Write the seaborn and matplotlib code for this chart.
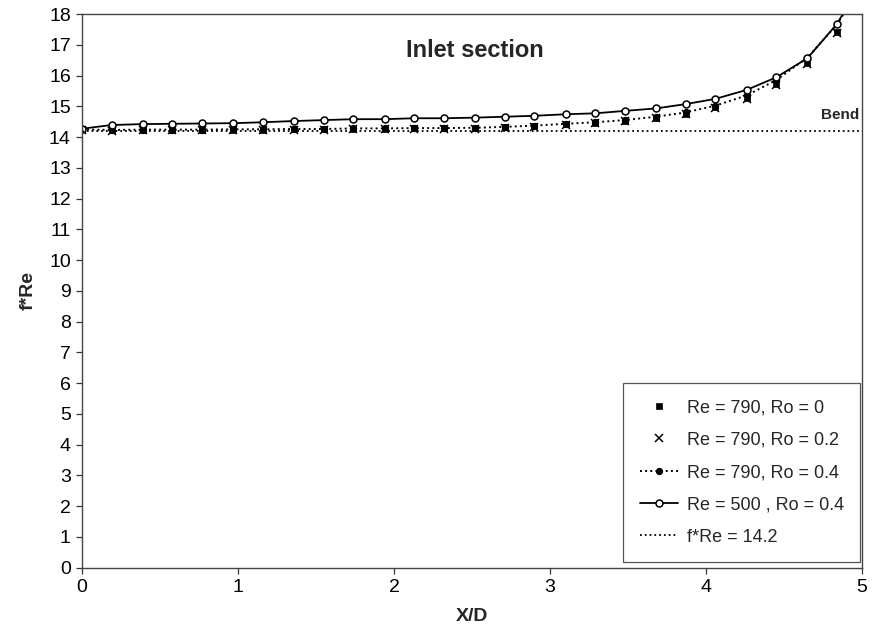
import numpy as np
import pandas as pd
import matplotlib
matplotlib.use("Agg")
import matplotlib.pyplot as plt
import seaborn as sns

# ---- data ----
xd = [0.00, 0.19, 0.39, 0.58, 0.77, 0.97, 1.16, 1.36, 1.55, 1.74, 1.94, 2.13, 2.32,
      2.52, 2.71, 2.90, 3.10, 3.29, 3.48, 3.68, 3.87, 4.06, 4.26, 4.45, 4.65, 4.84]
xd_ext = xd + [5.03]

re790_ro0 = [14.25, 14.22, 14.23, 14.23, 14.23, 14.24, 14.24, 14.25, 14.25, 14.26, 14.27, 14.28, 14.28,
             14.28, 14.31, 14.35, 14.41, 14.46, 14.52, 14.62, 14.75, 14.96, 15.27, 15.72, 16.42, 17.42]
re790_ro02 = [14.24, 14.21, 14.22, 14.22, 14.22, 14.23, 14.23, 14.24, 14.24, 14.25, 14.26, 14.27, 14.27,
              14.27, 14.30, 14.34, 14.40, 14.45, 14.51, 14.61, 14.74, 14.95, 15.25, 15.70, 16.38, 17.38]
re790_ro04 = [14.25, 14.23, 14.24, 14.24, 14.24, 14.25, 14.25, 14.26, 14.26, 14.28, 14.28, 14.29, 14.29,
              14.30, 14.33, 14.37, 14.43, 14.48, 14.55, 14.66, 14.80, 15.02, 15.35, 15.85, 16.58, 17.66, 19.20]
re500_ro04 = [14.27, 14.39, 14.42, 14.43, 14.44, 14.45, 14.48, 14.52, 14.55, 14.58, 14.58, 14.61, 14.61,
              14.63, 14.66, 14.69, 14.74, 14.77, 14.85, 14.93, 15.07, 15.24, 15.53, 15.94, 16.56, 17.68, 19.30]
ref_x = [0, 5]
ref_y = [14.2, 14.2]

labels = ["Re = 790, Ro = 0", "Re = 790, Ro = 0.2", "Re = 790, Ro = 0.4",
          "Re = 500 , Ro = 0.4", "f*Re = 14.2"]
xticks = [0, 1, 2, 3, 4, 5]
yticks = list(range(0, 19))

# ---- style ----
sns.set_style("white")
plt.rcParams["font.family"] = ["Liberation Sans", "DejaVu Sans"]

fig = plt.figure(figsize=(8.72, 6.31), dpi=100)
ax = fig.add_axes([0.094, 0.1006, 0.8945, 0.8772])

df0 = pd.DataFrame({"x": xd, "y": re790_ro0})
df1 = pd.DataFrame({"x": xd, "y": re790_ro02})
df2 = pd.DataFrame({"x": xd_ext, "y": re790_ro04})
df3 = pd.DataFrame({"x": xd_ext, "y": re500_ro04})
dfr = pd.DataFrame({"x": ref_x, "y": ref_y})

sns.lineplot(data=df0, x="x", y="y", ax=ax, color="black", linestyle="none",
             marker="s", markersize=4.5, markeredgecolor="black", markerfacecolor="black",
             markeredgewidth=0.5, label=labels[0], estimator=None, sort=False)
sns.lineplot(data=df1, x="x", y="y", ax=ax, color="black", linestyle="none",
             marker="x", markersize=6, markeredgecolor="black", markeredgewidth=1.1,
             label=labels[1], estimator=None, sort=False)
sns.lineplot(data=df2, x="x", y="y", ax=ax, color="black", linestyle=":", linewidth=1.4,
             marker="o", markersize=4.5, markerfacecolor="black", markeredgecolor="black",
             label=labels[2], estimator=None, sort=False)
sns.lineplot(data=df3, x="x", y="y", ax=ax, color="black", linestyle="-", linewidth=1.3,
             marker="o", markersize=5, markerfacecolor="white", markeredgecolor="black",
             markeredgewidth=1.1, label=labels[3], estimator=None, sort=False)
sns.lineplot(data=dfr, x="x", y="y", ax=ax, color="black", linestyle=":", linewidth=1.3,
             label=labels[4], estimator=None, sort=False)

ax.set_xlim(0, 5)
ax.set_ylim(0, 18)
ax.set_xticks(xticks)
ax.set_yticks(yticks)
ax.set_xticklabels([str(t) for t in xticks])
ax.set_yticklabels([str(t) for t in yticks])
ax.tick_params(axis="both", direction="out", length=4, width=0.9, color="#333333",
               labelsize=14, labelcolor="black", pad=4)
ax.tick_params(left=True, bottom=True)

for s in ax.spines.values():
    s.set_visible(True)
    s.set_color("#444444")
    s.set_linewidth(1.0)

ax.set_xlabel("X/D", fontsize=14, fontweight="bold")
ax.set_ylabel("f*Re", fontsize=14, fontweight="bold")
ax.xaxis.set_label_coords(0.5, -0.073)
ax.yaxis.set_label_coords(-0.058, 0.5)

ax.text(2.52, 16.8, "Inlet section", fontsize=17, fontweight="bold",
        ha="center", va="center")
ax.text(4.985, 14.72, "Bend", fontsize=11, fontweight="bold", ha="right", va="center")

handles, labs = ax.get_legend_handles_labels()
leg = ax.legend(handles, labs, loc="lower right", bbox_to_anchor=(0.9975, 0.01),
                borderaxespad=0, fontsize=13, frameon=True, fancybox=False,
                edgecolor="#555555", facecolor="white", framealpha=1,
                handlelength=2.1, handletextpad=0.5, labelspacing=0.85,
                borderpad=0.9, numpoints=1)
leg.get_frame().set_linewidth(0.9)

fig.savefig("out.png", dpi=100)
